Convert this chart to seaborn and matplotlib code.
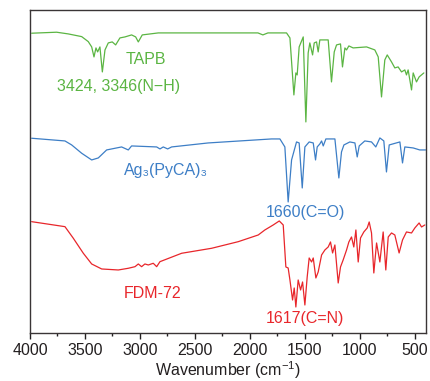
import matplotlib
matplotlib.use("Agg")
import matplotlib.pyplot as plt
from matplotlib.ticker import MultipleLocator
import seaborn as sns
import pandas as pd

# Wavenumber (cm-1) and relative transmittance (arbitrary units, offset traces)
tapb_wn = [3985, 3758, 3652, 3530, 3470, 3439, 3418, 3400, 3385, 3364,
           3342, 3318, 3288, 3252, 3221, 3182, 3136, 3076, 3039, 3015,
           2979, 2833, 1927, 1882, 1836, 1818, 1667, 1636, 1600, 1582,
           1570, 1552, 1515, 1491, 1470, 1455, 1430, 1415, 1394, 1379,
           1364, 1288, 1258, 1233, 1212, 1176, 1158, 1136, 1121, 1100,
           1061, 939, 864, 833, 803, 773, 751, 712, 682, 652,
           621, 591, 576, 561, 530, 515, 485, 461, 418]
tapb_t = [316.7, 317.7, 316, 313.3, 308.3, 303, 293, 302, 298, 303,
          278, 300, 307, 308, 305, 312, 313, 315, 313, 308,
          315, 317, 317, 315, 317, 317, 317, 312, 255, 277,
          275, 303, 313, 228, 297, 307, 295, 307, 308, 298,
          310, 310, 268, 298, 305, 306, 283, 302, 300, 304,
          302, 303, 300, 293, 253, 290, 295, 288, 282, 283,
          278, 280, 275, 280, 260, 277, 268, 273, 277]

ag_wn = [3985, 3682, 3621, 3530, 3439, 3379, 3303, 3167, 3106, 3076,
         2848, 2818, 2788, 2748, 2712, 2379, 1803, 1727, 1682, 1652,
         1621, 1576, 1552, 1524, 1500, 1461, 1424, 1403, 1388, 1364,
         1348, 1333, 1309, 1227, 1191, 1167, 1145, 1091, 1045, 1024,
         1006, 955, 894, 855, 818, 782, 758, 733, 636, 612,
         591, 515, 455, 403]
ag_t = [211.7, 209, 205, 196.7, 190, 192, 200, 203, 200, 204,
        203, 201, 203, 201, 203, 207, 211, 211, 203, 148,
        190, 208, 207, 162, 203, 208, 207, 190, 203, 206,
        209, 204, 211, 211, 172, 198, 205, 208, 207, 193,
        204, 209, 208, 203, 212, 209, 178, 205, 208, 187,
        203, 202, 200, 200]

fdm_wn = [3985, 3682, 3606, 3515, 3439, 3348, 3197, 3106, 3045, 3015,
          2985, 2955, 2924, 2879, 2848, 2818, 2621, 2348, 2106, 1924,
          1864, 1788, 1733, 1697, 1673, 1652, 1636, 1612, 1597, 1582,
          1561, 1539, 1521, 1500, 1479, 1461, 1439, 1424, 1400, 1379,
          1348, 1318, 1288, 1267, 1248, 1227, 1197, 1176, 1152, 1121,
          1100, 1076, 1055, 1036, 1015, 994, 964, 933, 915, 894,
          873, 848, 818, 788, 764, 742, 712, 682, 643, 612,
          576, 530, 500, 461, 439, 409]
fdm_t = [128.3, 123.3, 111.7, 96.7, 86, 81, 80, 81.7, 83.3, 86,
         83.3, 86, 85, 86.7, 83.3, 88.3, 96.7, 101.7, 108.3, 115,
         120, 125, 129, 125, 83, 82, 70, 50, 62, 43,
         70, 60, 68, 45, 73, 92, 88, 92, 72, 78,
         95, 100, 103, 108, 97, 105, 67, 83, 90, 100,
         108, 113, 103, 120, 88, 112, 118, 122, 128, 117,
         77, 107, 88, 118, 80, 113, 117, 115, 97, 110,
         118, 117, 122, 127, 123, 125]

series_names = ["TAPB", "Ag3(PyCA)3", "FDM-72"]
series_colors = ["#5bb543", "#3d7ec6", "#e8262b"]

frames = []
for name, wn, t in zip(series_names, [tapb_wn, ag_wn, fdm_wn], [tapb_t, ag_t, fdm_t]):
    frames.append(pd.DataFrame({"wn": wn, "t": t, "sample": name}))
df = pd.concat(frames, ignore_index=True)

sns.set_theme(style="white")
plt.rcParams["font.family"] = ["Liberation Sans", "DejaVu Sans"]
plt.rcParams["mathtext.fontset"] = "custom"
plt.rcParams["mathtext.rm"] = "Liberation Sans"
plt.rcParams["mathtext.default"] = "regular"

fig = plt.figure(figsize=(4.31, 3.81), dpi=100)
ax = fig.add_axes([0.0696, 0.126, 0.9184, 0.848])

sns.lineplot(data=df, x="wn", y="t", hue="sample", palette=series_colors,
             hue_order=series_names, sort=False, estimator=None,
             linewidth=0.9, legend=False, ax=ax)

ax.set_xlim(4000, 400)
ax.set_ylim(17, 340)
ax.xaxis.set_major_locator(MultipleLocator(500))
ax.xaxis.set_minor_locator(MultipleLocator(250))
ax.set_yticks([])
ax.set_ylabel("")
ax.set_xlabel("Wavenumber (cm$^{-1}$)", fontsize=11.5, color="#231f20", labelpad=1)
ax.tick_params(axis="x", which="major", direction="out", length=4, width=1,
               colors="#231f20", labelsize=11.5, pad=3, bottom=True)
ax.tick_params(axis="x", which="minor", direction="out", length=2.5, width=1,
               colors="#231f20", bottom=True)
for s in ax.spines.values():
    s.set_color("#3a3536")
    s.set_linewidth(1.0)

def txt(x, y, s, c):
    ax.annotate(s, xy=(x / 431, 1 - y / 381), xycoords="figure fraction",
                ha="center", va="center", fontsize=11.5, color=c)

txt(146, 60, "TAPB", series_colors[0])
txt(119, 86, "3424, 3346(N\u2212H)", series_colors[0])
txt(166, 170, "Ag\u2083(PyCA)\u2083", series_colors[1])
txt(305, 213, "1660(C=O)", series_colors[1])
txt(153, 293, "FDM-72", series_colors[2])
txt(305, 318, "1617(C=N)", series_colors[2])

fig.savefig("out.png", dpi=100)
